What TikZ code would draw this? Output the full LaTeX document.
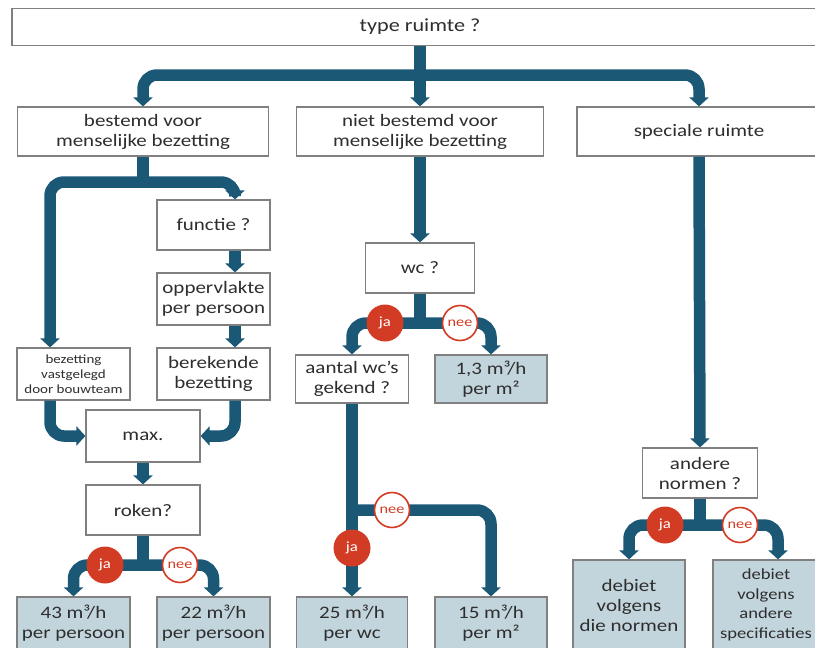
\documentclass[tikz,border=0pt]{standalone}
\usepackage{fontspec}
\setmainfont{Carlito}[FakeStretch=1.2]
\usetikzlibrary{arrows.meta,positioning,calc}
\definecolor{flowblue}{HTML}{1B5876}
\definecolor{jared}{HTML}{D23B24}
\definecolor{resfill}{HTML}{C3D5DC}
\definecolor{boxline}{HTML}{808080}
\definecolor{txt}{HTML}{2E2E2E}
\tikzstyle{box}=[draw=boxline, fill=white, line width=1.2pt, align=center, inner sep=1pt, text=txt, font=\fontsize{17.5}{20}\selectfont]
\tikzstyle{resbox}=[box, fill=resfill]
\tikzstyle{pipe}=[draw=flowblue, line width=11.5pt, rounded corners=14pt]
\tikzstyle{flow}=[pipe, -{Triangle[width=19pt,length=9pt]}]
\tikzstyle{jaknop}=[circle, fill=jared, text=white, minimum size=37pt, inner sep=0pt, font=\fontsize{14}{14}\selectfont]
\tikzstyle{neeknop}=[circle, fill=white, draw=jared, line width=1.6pt, text=jared, minimum size=35pt, inner sep=0pt, font=\fontsize{13.5}{14}\selectfont]

\begin{document}
\begin{tikzpicture}[x=1pt, y=-1pt]

  \useasboundingbox (0,0) rectangle (815,648);

  % lanes that are not on a box centre
  \coordinate (laneL) at (50,0);
  \coordinate (laneR) at (235,0);
  \coordinate (laneS) at (778,0);

  \node[box, minimum width=816pt, minimum height=37pt, font=\fontsize{18.5}{20}\selectfont] (top) at (420,27) {type ruimte ?};

  % question boxes
  \foreach \x/\y/\w/\h/\name/\label in {
      143/131.5/251/49/bestemd/{bestemd voor\\menselijke bezetting},
      420/131.5/247/49/nietbestemd/{niet bestemd voor\\menselijke bezetting},
      699/131.5/244/49/speciale/{speciale ruimte},
      213.5/225/113/50/functie/{functie ?},
      213.5/299/113/52/opp/{oppervlakte\\per persoon},
      213.5/374/113/52/berekende/{berekende\\bezetting},
      143/436/114/52/max/{max.},
      143/510/114/50/roken/{roken?},
      420/268/109/50/wc/{wc ?},
      352/379/113/48/aantal/{aantal wc’s\\gekend ?},
      700/473/115/50/andere/{andere\\normen ?}}
          \node[box, minimum width=\w pt, minimum height=\h pt] (\name) at (\x,\y) {\label};

  \node[box, minimum width=113pt, minimum height=52pt, inner sep=0pt, font=\fontsize{12.5}{15}\selectfont] (vastgelegd) at (73.5,374) {bezetting\\vastgelegd\\door bouwteam};

  % result boxes
  \foreach \x/\y/\w/\h/\name/\label in {
      73.5/623/113/52/r43/{43 m³/h\\per persoon},
      213.5/623/113/52/r22/{22 m³/h\\per persoon},
      491/379/112/48/r13/{1,3 m³/h\\per m²},
      352/623/111/52/r25/{25 m³/h\\per wc},
      491/623/112/52/r15/{15 m³/h\\per m²},
      629/605/112/90/rdie/{debiet\\volgens\\die normen}}
          \node[resbox, minimum width=\w pt, minimum height=\h pt] (\name) at (\x,\y) {\label};

  \node[resbox, minimum width=106pt, minimum height=90pt, font=\fontsize{15.5}{19.5}\selectfont] (rspec) at (766,605) {debiet\\volgens\\andere\\specificaties};

  % splits
  \coordinate (split1) at (420,75);
  \coordinate (split2) at (143,182);
  \coordinate (split3) at (143,565);
  \coordinate (split4) at (420,323);
  \coordinate (split5) at (352,510);
  \coordinate (split6) at (700,525);

  \draw[pipe] (top.south) -- (split1);
  \draw[flow] (split1) -- (nietbestemd.north);
  \draw[flow] (split1) -| (bestemd.north);
  \draw[flow] (split1) -| (speciale.north);

  \draw[pipe] (bestemd.south) -- (split2);
  \draw[flow] (split2) -| (vastgelegd.north -| laneL);
  \draw[flow] (split2) -| (functie.north -| laneR);
  \foreach \source/\dest in {functie/opp, opp/berekende}
         \draw[flow] (\source.south -| laneR) -- (\dest.north -| laneR);
  \draw[flow] (vastgelegd.south -| laneL) |- (max.west);
  \draw[flow] (berekende.south -| laneR) |- (max.east);
  \draw[flow] (max.south) -- (roken.north);
  \draw[pipe] (roken.south) -- (split3);
  \draw[flow] (split3) -| (r43.north);
  \draw[flow] (split3) -| (r22.north);

  \draw[flow] (nietbestemd.south) -- (wc.north);
  \draw[pipe] (wc.south) -- (split4);
  \draw[flow] (split4) -| (aantal.north);
  \draw[flow] (split4) -| (r13.north);
  \draw[flow] (aantal.south) -- (r25.north);
  \draw[flow] (split5) -| (r15.north);

  \draw[flow] (speciale.south) -- (andere.north);
  \draw[pipe] (andere.south) -- (split6);
  \draw[flow] (split6) -| (rdie.north);
  \draw[flow] (split6) -| (rspec.north -| laneS);

  % ja / nee
  \foreach \x/\y/\name in {105/565/ja1, 385/323/ja2, 352/548/ja3, 665/525/ja4}
          \node[jaknop] (\name) at (\x,\y) {ja};
  \foreach \x/\y/\name in {180/565/nee1, 460/323/nee2, 392/510/nee3, 740/525/nee4}
          \node[neeknop] (\name) at (\x,\y) {nee};

\end{tikzpicture}
\end{document}
